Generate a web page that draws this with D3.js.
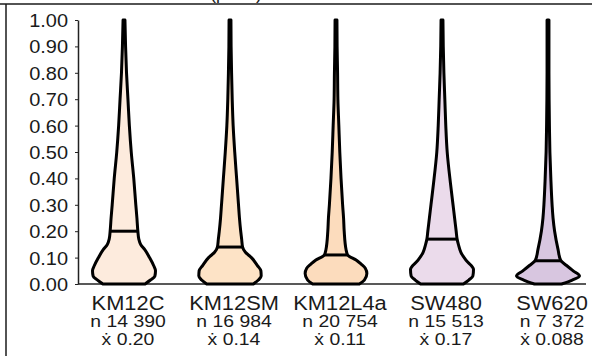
<!DOCTYPE html>
<html>
<head>
<meta charset="utf-8">
<script src="https://cdn.jsdelivr.net/npm/d3@7"></script>
<style>
  body { margin: 0; background: #fff; }
  text { font-family: "Liberation Sans", Arial, sans-serif; fill: #1a1a1a; }
</style>
</head>
<body>
<div id="chart"></div>
<script>
// data
const categories = ["KM12C", "KM12SM", "KM12L4a", "SW480", "SW620"];
const counts = [14390, 16984, 20754, 15513, 7372];
const means = [0.20, 0.14, 0.11, 0.17, 0.088];
const fills = ["#fdebdd", "#fde3c6", "#fcdcbd", "#ebdbeb", "#d8c6e0"];
const yTicks = [0, 0.1, 0.2, 0.3, 0.4, 0.5, 0.6, 0.7, 0.8, 0.9, 1.0];

// relative density (violin half width) at each value
const km12cY = [0, 0.015, 0.03, 0.05, 0.07, 0.1, 0.13, 0.15, 0.17, 0.2, 0.25, 0.3, 0.4, 0.5, 0.6, 0.7, 0.8, 0.9, 1.0];
const km12cD = [0.67, 0.84, 0.98, 1.0, 0.94, 0.81, 0.66, 0.53, 0.47, 0.44, 0.41, 0.375, 0.31, 0.23, 0.17, 0.125, 0.08, 0.05, 0.03];
const km12smY = [0, 0.015, 0.03, 0.05, 0.07, 0.1, 0.12, 0.14, 0.17, 0.2, 0.25, 0.3, 0.4, 0.5, 0.6, 0.7, 0.8, 0.9, 1.0];
const km12smD = [0.74, 0.90, 0.99, 0.98, 0.87, 0.68, 0.49, 0.40, 0.37, 0.34, 0.30, 0.27, 0.21, 0.15, 0.10, 0.07, 0.05, 0.035, 0.03];
const km12l4aY = [0, 0.015, 0.04, 0.06, 0.075, 0.09, 0.11, 0.13, 0.2, 0.25, 0.3, 0.4, 0.5, 0.6, 0.7, 0.8, 0.9, 1.0];
const km12l4aD = [0.74, 0.90, 0.98, 0.93, 0.80, 0.65, 0.37, 0.32, 0.26, 0.24, 0.21, 0.16, 0.12, 0.09, 0.06, 0.05, 0.035, 0.03];
const sw480Y = [0, 0.015, 0.03, 0.055, 0.09, 0.12, 0.15, 0.17, 0.2, 0.25, 0.3, 0.38, 0.5, 0.6, 0.7, 0.8, 0.9, 1.0];
const sw480D = [0.68, 0.85, 0.98, 1.0, 0.76, 0.60, 0.52, 0.48, 0.45, 0.40, 0.35, 0.27, 0.165, 0.12, 0.09, 0.06, 0.04, 0.03];
const sw620Y = [0, 0.015, 0.03, 0.05, 0.07, 0.09, 0.13, 0.2, 0.25, 0.3, 0.4, 0.5, 0.6, 0.7, 0.8, 0.9, 1.0];
const sw620D = [0.43, 0.77, 1.0, 0.80, 0.59, 0.40, 0.32, 0.21, 0.16, 0.13, 0.09, 0.06, 0.045, 0.035, 0.03, 0.03, 0.03];

const profiles = [
  [km12cY, km12cD], [km12smY, km12smD], [km12l4aY, km12l4aD], [sw480Y, sw480D], [sw620Y, sw620D]
];

const width = 596, height = 356;
const svg = d3.select("#chart").append("svg")
    .attr("width", width)
    .attr("height", height);

const x = d3.scaleBand().domain(categories).range([71, 601]);
const y = d3.scaleLinear().domain([0, 1]).range([284, 20]);
const w = d3.scaleLinear().domain([0, 1]).range([0, 31.5]);

// frame bits (title is clipped by the top edge, as in the source)
svg.append("text")
    .attr("x", 236).attr("y", -1)
    .attr("text-anchor", "middle")
    .style("font-size", "18px")
    .text("(p.d.f.)");
svg.append("line").attr("x1", 0).attr("x2", 592).attr("y1", 4).attr("y2", 4)
    .style("stroke", "#1a1a1a").style("stroke-width", 1.5);
svg.append("line").attr("x1", 6).attr("x2", 6).attr("y1", 4).attr("y2", height)
    .style("stroke", "#1a1a1a").style("stroke-width", 1.5);

// y axis
const yAxis = svg.append("g")
    .attr("transform", "translate(78,0)")
    .call(d3.axisLeft(y).tickValues(yTicks).tickFormat(d3.format(".2f")).tickSize(3).tickSizeOuter(0));
yAxis.select(".domain").style("stroke", "#222").style("stroke-width", 1.5);
yAxis.selectAll(".tick line").style("stroke", "#222");
yAxis.selectAll(".tick text")
    .attr("x", -9)
    .attr("dy", "0.36em")
    .attr("transform", "scale(1.11,1)")
    .style("font-size", "18px")
    .style("fill", "#1a1a1a");

// x axis baseline
svg.append("line")
    .attr("x1", 78).attr("x2", 586)
    .attr("y1", y(0)).attr("y2", y(0))
    .style("stroke", "#222").style("stroke-width", 1.5);

const area = d3.area()
    .curve(d3.curveMonotoneY)
    .y(d => y(d[0]))
    .x0(d => -w(d[1]))
    .x1(d => w(d[1]));

const violin = svg.selectAll(".violin")
    .data(categories)
    .enter().append("g")
    .attr("class", "violin")
    .attr("transform", d => `translate(${x(d) + x.bandwidth() / 2},0)`);

violin.append("path")
    .attr("d", (d, i) => area(profiles[i][0].map((v, j) => [v, profiles[i][1][j]])))
    .style("fill", (d, i) => fills[i])
    .style("stroke", "#000")
    .style("stroke-width", 3)
    .style("stroke-linejoin", "round");

function halfAt(i, m) {
  const ys = profiles[i][0], ds = profiles[i][1];
  const k = d3.bisectLeft(ys, m);
  const t = (m - ys[k - 1]) / (ys[k] - ys[k - 1]);
  return w(ds[k - 1] + t * (ds[k] - ds[k - 1]));
}

violin.append("line")
    .attr("x1", (d, i) => -halfAt(i, means[i]))
    .attr("x2", (d, i) => halfAt(i, means[i]))
    .attr("y1", (d, i) => y(means[i]))
    .attr("y2", (d, i) => y(means[i]))
    .style("stroke", "#000")
    .style("stroke-width", 3);

// labels under the axis
const fmtN = d3.formatLocale({ decimal: ".", thousands: " ", grouping: [3], currency: ["", ""] }).format(",");
const fmtMean = d3.format(".2r");

const label = svg.selectAll(".label")
    .data(categories)
    .enter().append("g")
    .attr("class", "label")
    .attr("transform", d => `translate(${x(d) + x.bandwidth() / 2 + 4},0)`);

label.append("text")
    .attr("text-anchor", "middle")
    .attr("transform", "translate(0,310) scale(1.12,1)")
    .style("font-size", "19.5px")
    .text(d => d);
label.append("text")
    .attr("text-anchor", "middle")
    .attr("transform", "translate(0,327) scale(1.14,1)")
    .style("font-size", "17px")
    .text((d, i) => "n " + fmtN(counts[i]));
label.append("text")
    .attr("text-anchor", "middle")
    .attr("transform", "translate(0,345) scale(1.14,1)")
    .style("font-size", "17px")
    .text((d, i) => "\u1E8B " + fmtMean(means[i]));
</script>
</body>
</html>
